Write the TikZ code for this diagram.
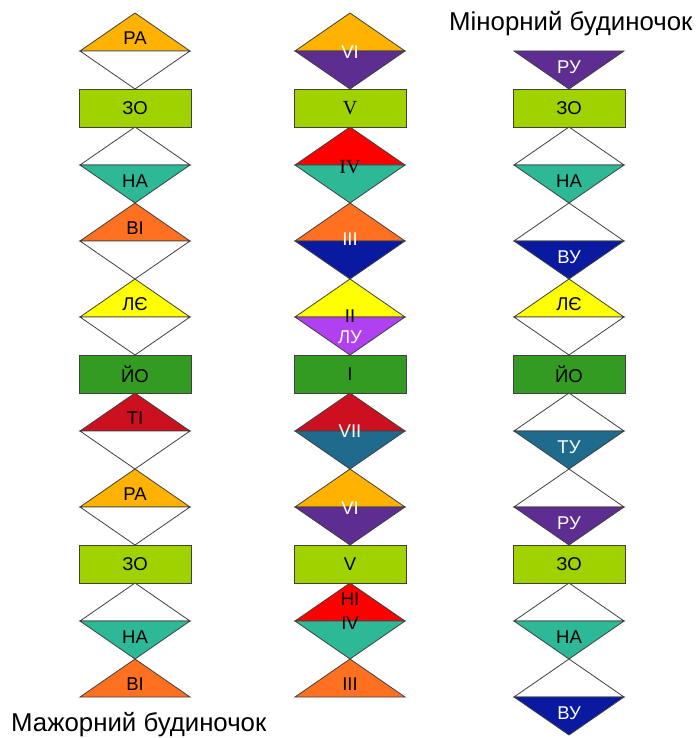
\documentclass[tikz,border=0pt]{standalone}
\usepackage{fontspec}
\setmainfont{Liberation Sans}
\newfontfamily\serifrm{Liberation Serif}
\definecolor{cgold}{HTML}{FFB300}
\definecolor{clgreen}{HTML}{A0D200}
\definecolor{cteal}{HTML}{2DB896}
\definecolor{corange}{HTML}{FF7020}
\definecolor{cyellow}{HTML}{FFFF00}
\definecolor{cgreen}{HTML}{339A22}
\definecolor{ccrimson}{HTML}{CC1020}
\definecolor{cpurple}{HTML}{5E2D91}
\definecolor{cred}{HTML}{FF0000}
\definecolor{cdblue}{HTML}{0A1AA0}
\definecolor{cviolet}{HTML}{B040F0}
\definecolor{csteel}{HTML}{1F6B8E}
\definecolor{cline}{HTML}{404040}
\tikzset{
  shp/.style={draw=cline, line width=0.8pt, line join=miter},
  lbl/.style={inner sep=0pt, font=\fontsize{18.5}{21}\selectfont, text=black},
  wlbl/.style={lbl, text=white},
  slbl/.style={lbl, font=\serifrm\fontsize{20}{23}\selectfont},
  ttl/.style={inner sep=0pt, anchor=base west, font=\fontsize{25.8}{29}\selectfont}
}
% #1 centre x, #2 row index, #3 fill
\newcommand\UpT[3]{\filldraw[shp,fill=#3] ({#1},{13+38*#2}) -- ({#1-55},{51+38*#2}) -- ({#1+55},{51+38*#2}) -- cycle;}
\newcommand\DnT[3]{\filldraw[shp,fill=#3] ({#1-55},{13+38*#2}) -- ({#1+55},{13+38*#2}) -- ({#1},{51+38*#2}) -- cycle;}
\newcommand\RcT[3]{\filldraw[shp,fill=#3] ({#1-56},{13+38*#2}) rectangle ({#1+56},{51+38*#2});}
\begin{document}
\begin{tikzpicture}[x=1pt,y=-1pt]
\useasboundingbox (0,0) rectangle (698,738);
\fill[white] (0,0) rectangle (698,738);
% ---------------- column 1 (major, solfege)
\UpT{135}{0}{cgold}
\DnT{135}{1}{white}
\RcT{135}{2}{clgreen}
\UpT{135}{3}{white}
\DnT{135}{4}{cteal}
\UpT{135}{5}{corange}
\DnT{135}{6}{white}
\UpT{135}{7}{cyellow}
\DnT{135}{8}{white}
\RcT{135}{9}{cgreen}
\UpT{135}{10}{ccrimson}
\DnT{135}{11}{white}
\UpT{135}{12}{cgold}
\DnT{135}{13}{white}
\RcT{135}{14}{clgreen}
\UpT{135}{15}{white}
\DnT{135}{16}{cteal}
\UpT{135}{17}{corange}
\node[lbl] (a0) at (135,{13+38*0+25}) {РА};
\node[lbl] (a2) at (135,{13+38*2+19}) {ЗО};
\node[lbl] (a4) at (135,{13+38*4+16}) {НА};
\node[lbl] (a5) at (135,{13+38*5+25}) {ВІ};
\node[lbl] (a7) at (135,{13+38*7+25}) {ЛЄ};
\node[lbl] (a9) at (135,{13+38*9+19}) {ЙО};
\node[lbl] (a10) at (135,{13+38*10+25}) {ТІ};
\node[lbl] (a12) at (135,{13+38*12+25}) {РА};
\node[lbl] (a14) at (135,{13+38*14+19}) {ЗО};
\node[lbl] (a16) at (135,{13+38*16+16}) {НА};
\node[lbl] (a17) at (135,{13+38*17+25}) {ВІ};
% ---------------- column 2 (degrees)
\UpT{350}{0}{cgold}
\DnT{350}{1}{cpurple}
\RcT{350}{2}{clgreen}
\UpT{350}{3}{cred}
\DnT{350}{4}{cteal}
\UpT{350}{5}{corange}
\DnT{350}{6}{cdblue}
\UpT{350}{7}{cyellow}
\DnT{350}{8}{cviolet}
\RcT{350}{9}{cgreen}
\UpT{350}{10}{ccrimson}
\DnT{350}{11}{csteel}
\UpT{350}{12}{cgold}
\DnT{350}{13}{cpurple}
\RcT{350}{14}{clgreen}
\UpT{350}{15}{cred}
\DnT{350}{16}{cteal}
\UpT{350}{17}{corange}
\node[wlbl] (b0) at (350,52) {VI};
\node[slbl] (b2) at (350,{13+38*2+19}) {V};
\node[slbl] (b3) at (350,167) {IV};
\node[wlbl] (b5) at (350,239) {III};
\node[lbl] (b7) at (350,316) {II};
\node[wlbl] (b8) at (350,337) {ЛУ};
\node[lbl] (b9) at (350,{13+38*9+19}) {I};
\node[wlbl] (b10) at (350,431) {VII};
\node[wlbl] (b12) at (350,508) {VI};
\node[lbl] (b14) at (350,{13+38*14+19}) {V};
\node[lbl] (b15) at (350,599) {НІ};
\node[lbl] (b16) at (350,623) {IV};
\node[lbl] (b17) at (350,{13+38*17+25}) {III};
% ---------------- column 3 (minor)
\DnT{569}{1}{cpurple}
\RcT{569}{2}{clgreen}
\UpT{569}{3}{white}
\DnT{569}{4}{cteal}
\UpT{569}{5}{white}
\DnT{569}{6}{cdblue}
\UpT{569}{7}{cyellow}
\DnT{569}{8}{white}
\RcT{569}{9}{cgreen}
\UpT{569}{10}{white}
\DnT{569}{11}{csteel}
\UpT{569}{12}{white}
\DnT{569}{13}{cpurple}
\RcT{569}{14}{clgreen}
\UpT{569}{15}{white}
\DnT{569}{16}{cteal}
\UpT{569}{17}{white}
\DnT{569}{18}{cdblue}
\node[wlbl] (c1) at (569,{13+38*1+16}) {РУ};
\node[lbl] (c2) at (569,{13+38*2+19}) {ЗО};
\node[lbl] (c4) at (569,{13+38*4+16}) {НА};
\node[wlbl] (c6) at (569,{13+38*6+16}) {ВУ};
\node[lbl] (c7) at (569,{13+38*7+25}) {ЛЄ};
\node[lbl] (c9) at (569,{13+38*9+19}) {ЙО};
\node[wlbl] (c11) at (569,{13+38*11+16}) {ТУ};
\node[wlbl] (c13) at (569,{13+38*13+16}) {РУ};
\node[lbl] (c14) at (569,{13+38*14+19}) {ЗО};
\node[lbl] (c16) at (569,{13+38*16+16}) {НА};
\node[wlbl] (c18) at (569,{13+38*18+16}) {ВУ};
% ---------------- titles
\node[ttl] (tmin) at (449,31) {Мінорний будиночок};
\node[ttl] (tmaj) at (11,731) {Мажорний будиночок};
\end{tikzpicture}
\end{document}
